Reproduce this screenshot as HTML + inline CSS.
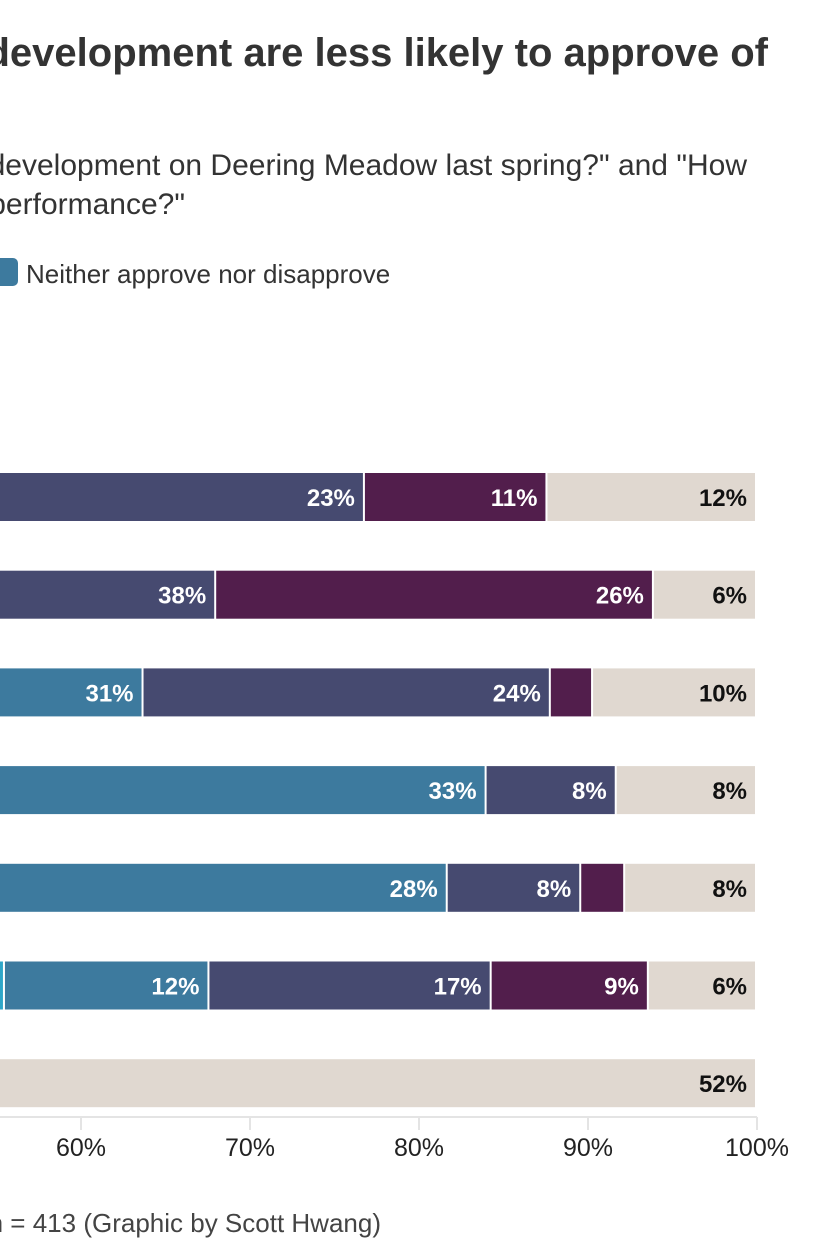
<!DOCTYPE html>
<html><head><meta charset="utf-8"><style>
html,body{margin:0;padding:0;background:#fff;overflow:hidden}
svg{display:block;font-family:"Liberation Sans",sans-serif}
</style></head><body>
<svg id="chart" width="821" height="1251" viewBox="0 0 821 1251">
<text x="768" y="66" text-anchor="end" font-size="40" font-weight="bold" fill="#333">Students who oppose the development are less likely to approve of</text>
<text x="747" y="175" text-anchor="end" font-size="30" fill="#333">"Do you approve of the development on Deering Meadow last spring?" and "How</text>
<text x="185" y="214" text-anchor="end" font-size="30" fill="#333">would you rate the administration's performance?"</text>
<rect x="-10" y="258" width="28" height="28" rx="5" fill="#3d7a9e"/>
<text x="26" y="283" font-size="26" fill="#333">Neither approve nor disapprove</text>
<g id="bars"></g>
<g id="axis"></g>
<text x="381" y="1232" text-anchor="end" font-size="26" fill="#444">Source: Survey, n = 413 (Graphic by Scott Hwang)</text>
</svg>
<script>
const categories = ["row-1","row-2","row-3","row-4","row-5","row-6","row-7"];
const stronglyApprove = [10, 5, 8, 15, 18, 16, 10];
const approve = [23.5, 10, 24.7, 36, 35.7, 39.5, 20];
const neither = [20.3, 15, 31, 33, 28, 12.1, 10];
const disapprove = [23, 38, 24.1, 7.7, 7.9, 16.7, 5];
const stronglyDisapprove = [10.8, 25.9, 2.5, 0, 2.6, 9.3, 3];
const dontKnow = [12.4, 6.1, 9.7, 8.3, 7.8, 6.4, 52];
const tickValues = [0,10,20,30,40,50,60,70,80,90,100];
const tickLabels = ["0%","10%","20%","30%","40%","50%","60%","70%","80%","90%","100%"];
const seriesList = [stronglyApprove, approve, neither, disapprove, stronglyDisapprove, dontKnow];
const seriesNames = ["strongly-approve","approve","neither","disapprove","strongly-disapprove","dont-know"];
const colors = ["#8fd2e6","#2ea6c8","#3d7a9e","#464a70","#521e4c","#e0d8d0"];
const textColors = ["#fff","#fff","#fff","#fff","#fff","#111"];
const NS="http://www.w3.org/2000/svg";
const x = v => -933 + v*16.9;
const rowY = i => 473 + i*97.7;
const barH = 48;
const bars = document.getElementById('bars');
categories.forEach((c,i)=>{
  let cum=0;
  seriesList.forEach((s,k)=>{
    const v=s[i]; if(v<=0){return;}
    const x0=x(cum), x1=x(cum+v); cum+=v;
    const r=document.createElementNS(NS,'rect');
    r.setAttribute('x',x0); r.setAttribute('y',rowY(i));
    r.setAttribute('width',Math.max(0,x1-x0-2)); r.setAttribute('height',barH);
    r.setAttribute('fill',colors[k]);
    
    
    bars.appendChild(r);
    if(v>=5 && x1>50){
      const t=document.createElementNS(NS,'text');
      t.setAttribute('x',x1-10); t.setAttribute('y',rowY(i)+33);
      t.setAttribute('text-anchor','end'); t.setAttribute('font-size','24');
      t.setAttribute('font-weight','bold'); t.setAttribute('fill',textColors[k]);
      t.textContent=Math.round(v)+'%';
      
      
      bars.appendChild(t);
    }
  });
});
const axis=document.getElementById('axis');
const line=document.createElementNS(NS,'line');
line.setAttribute('x1',x(0)); line.setAttribute('x2',x(100));
line.setAttribute('y1',1117); line.setAttribute('y2',1117);
line.setAttribute('stroke','#e4e4e4'); line.setAttribute('stroke-width','2');


axis.appendChild(line);
tickValues.forEach((v,j)=>{
  const tk=document.createElementNS(NS,'line');
  tk.setAttribute('x1',x(v)); tk.setAttribute('x2',x(v));
  tk.setAttribute('y1',1117); tk.setAttribute('y2',1130);
  tk.setAttribute('stroke','#e4e4e4'); tk.setAttribute('stroke-width','2');
  
  
  axis.appendChild(tk);
  const t=document.createElementNS(NS,'text');
  t.setAttribute('x',x(v)); t.setAttribute('y',1156);
  t.setAttribute('text-anchor','middle'); t.setAttribute('font-size','25'); t.setAttribute('fill','#222');
  t.textContent=tickLabels[j];
  
  
  axis.appendChild(t);
});
</script>
</body></html>
